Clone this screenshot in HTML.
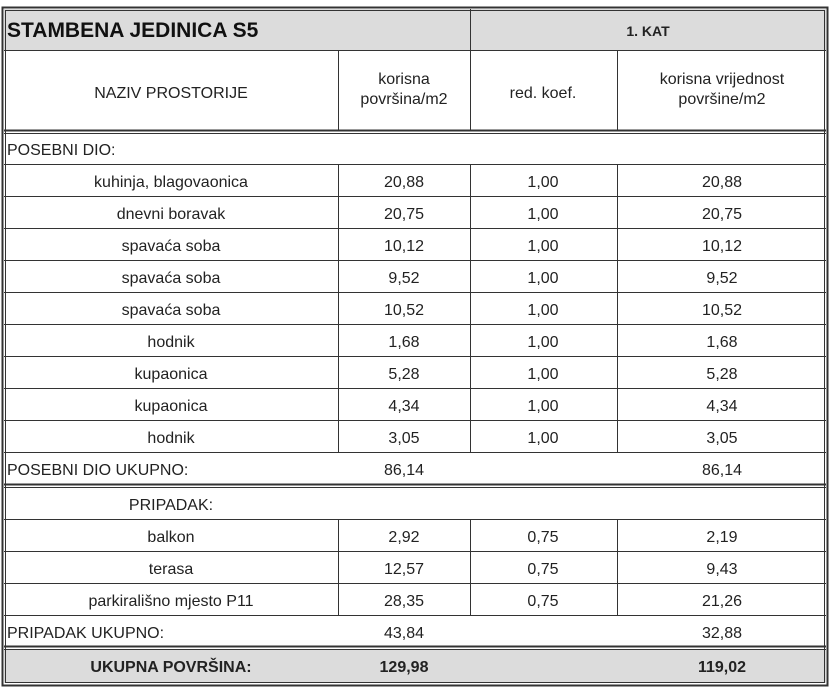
<!DOCTYPE html>
<html><head><meta charset="utf-8"><style>
body{margin:0;background:#fff;}
svg text{font-family:"Liberation Sans",Arial,sans-serif;font-size:16px;fill:#222;}
</style></head><body>
<svg width="831" height="690" xmlns="http://www.w3.org/2000/svg">
<rect x="0" y="0" width="831" height="690" fill="#fff"/>
<rect x="4" y="9" width="822" height="41" fill="#dcdcdc"/>
<rect x="4" y="650" width="822" height="33" fill="#dcdcdc"/>
<g stroke="#333" fill="none">
<rect x="2.5" y="7.5" width="825" height="678" stroke-width="2"/>
<rect x="5.5" y="10.5" width="819" height="672" stroke-width="1"/>
<line x1="4" y1="50.5" x2="826" y2="50.5" stroke-width="1"/>
<line x1="4" y1="130.5" x2="826" y2="130.5" stroke-width="2"/>
<line x1="4" y1="133.5" x2="826" y2="133.5" stroke-width="1"/>
<line x1="4" y1="484.5" x2="826" y2="484.5" stroke-width="2"/>
<line x1="4" y1="487.5" x2="826" y2="487.5" stroke-width="1"/>
<line x1="4" y1="646.5" x2="826" y2="646.5" stroke-width="2"/>
<line x1="4" y1="649.5" x2="826" y2="649.5" stroke-width="1"/>
<g stroke-width="1">
<line x1="4" y1="164.5" x2="826" y2="164.5"/>
<line x1="4" y1="196.5" x2="826" y2="196.5"/>
<line x1="4" y1="228.5" x2="826" y2="228.5"/>
<line x1="4" y1="260.5" x2="826" y2="260.5"/>
<line x1="4" y1="292.5" x2="826" y2="292.5"/>
<line x1="4" y1="324.5" x2="826" y2="324.5"/>
<line x1="4" y1="356.5" x2="826" y2="356.5"/>
<line x1="4" y1="388.5" x2="826" y2="388.5"/>
<line x1="4" y1="420.5" x2="826" y2="420.5"/>
<line x1="4" y1="452.5" x2="826" y2="452.5"/>
<line x1="4" y1="519.5" x2="826" y2="519.5"/>
<line x1="4" y1="551.5" x2="826" y2="551.5"/>
<line x1="4" y1="583.5" x2="826" y2="583.5"/>
<line x1="4" y1="615.5" x2="826" y2="615.5"/>
<line x1="470.5" y1="9" x2="470.5" y2="130"/>
<line x1="338.5" y1="50" x2="338.5" y2="130"/>
<line x1="617.5" y1="50" x2="617.5" y2="130"/>
<line x1="338.5" y1="164" x2="338.5" y2="452"/>
<line x1="470.5" y1="164" x2="470.5" y2="452"/>
<line x1="617.5" y1="164" x2="617.5" y2="452"/>
<line x1="338.5" y1="519" x2="338.5" y2="615"/>
<line x1="470.5" y1="519" x2="470.5" y2="615"/>
<line x1="617.5" y1="519" x2="617.5" y2="615"/>
</g>
</g>
<text x="7" y="37" style="font-size:21px;font-weight:bold;fill:#111">STAMBENA JEDINICA S5</text>
<text x="648" y="36" text-anchor="middle" style="font-weight:bold;font-size:14px">1. KAT</text>
<g text-anchor="middle">
<text x="171" y="98">NAZIV PROSTORIJE</text>
<text x="404" y="84">korisna</text><text x="404" y="104">površina/m2</text>
<text x="543" y="98">red. koef.</text>
<text x="722" y="84">korisna vrijednost</text><text x="722" y="104">površine/m2</text>
</g>
<text x="7" y="155">POSEBNI DIO:</text>
<g text-anchor="middle">
<text x="171" y="187">kuhinja, blagovaonica</text><text x="404" y="187">20,88</text><text x="543" y="187">1,00</text><text x="722" y="187">20,88</text>
<text x="171" y="219">dnevni boravak</text><text x="404" y="219">20,75</text><text x="543" y="219">1,00</text><text x="722" y="219">20,75</text>
<text x="171" y="251">spavaća soba</text><text x="404" y="251">10,12</text><text x="543" y="251">1,00</text><text x="722" y="251">10,12</text>
<text x="171" y="283">spavaća soba</text><text x="404" y="283">9,52</text><text x="543" y="283">1,00</text><text x="722" y="283">9,52</text>
<text x="171" y="315">spavaća soba</text><text x="404" y="315">10,52</text><text x="543" y="315">1,00</text><text x="722" y="315">10,52</text>
<text x="171" y="347">hodnik</text><text x="404" y="347">1,68</text><text x="543" y="347">1,00</text><text x="722" y="347">1,68</text>
<text x="171" y="379">kupaonica</text><text x="404" y="379">5,28</text><text x="543" y="379">1,00</text><text x="722" y="379">5,28</text>
<text x="171" y="411">kupaonica</text><text x="404" y="411">4,34</text><text x="543" y="411">1,00</text><text x="722" y="411">4,34</text>
<text x="171" y="443">hodnik</text><text x="404" y="443">3,05</text><text x="543" y="443">1,00</text><text x="722" y="443">3,05</text>
</g>
<text x="7" y="475">POSEBNI DIO UKUPNO:</text>
<text x="404" y="475" text-anchor="middle">86,14</text>
<text x="722" y="475" text-anchor="middle">86,14</text>
<g text-anchor="middle">
<text x="171" y="510">PRIPADAK:</text>
<text x="171" y="542">balkon</text><text x="404" y="542">2,92</text><text x="543" y="542">0,75</text><text x="722" y="542">2,19</text>
<text x="171" y="574">terasa</text><text x="404" y="574">12,57</text><text x="543" y="574">0,75</text><text x="722" y="574">9,43</text>
<text x="171" y="606">parkirališno mjesto P11</text><text x="404" y="606">28,35</text><text x="543" y="606">0,75</text><text x="722" y="606">21,26</text>
</g>
<text x="7" y="638">PRIPADAK UKUPNO:</text>
<text x="404" y="638" text-anchor="middle">43,84</text>
<text x="722" y="638" text-anchor="middle">32,88</text>
<g text-anchor="middle">
<text x="171" y="672" style="font-weight:bold">UKUPNA POVRŠINA:</text>
<text x="404" y="672" style="font-weight:bold">129,98</text>
<text x="722" y="672" style="font-weight:bold">119,02</text>
</g>
</svg>
</body></html>
